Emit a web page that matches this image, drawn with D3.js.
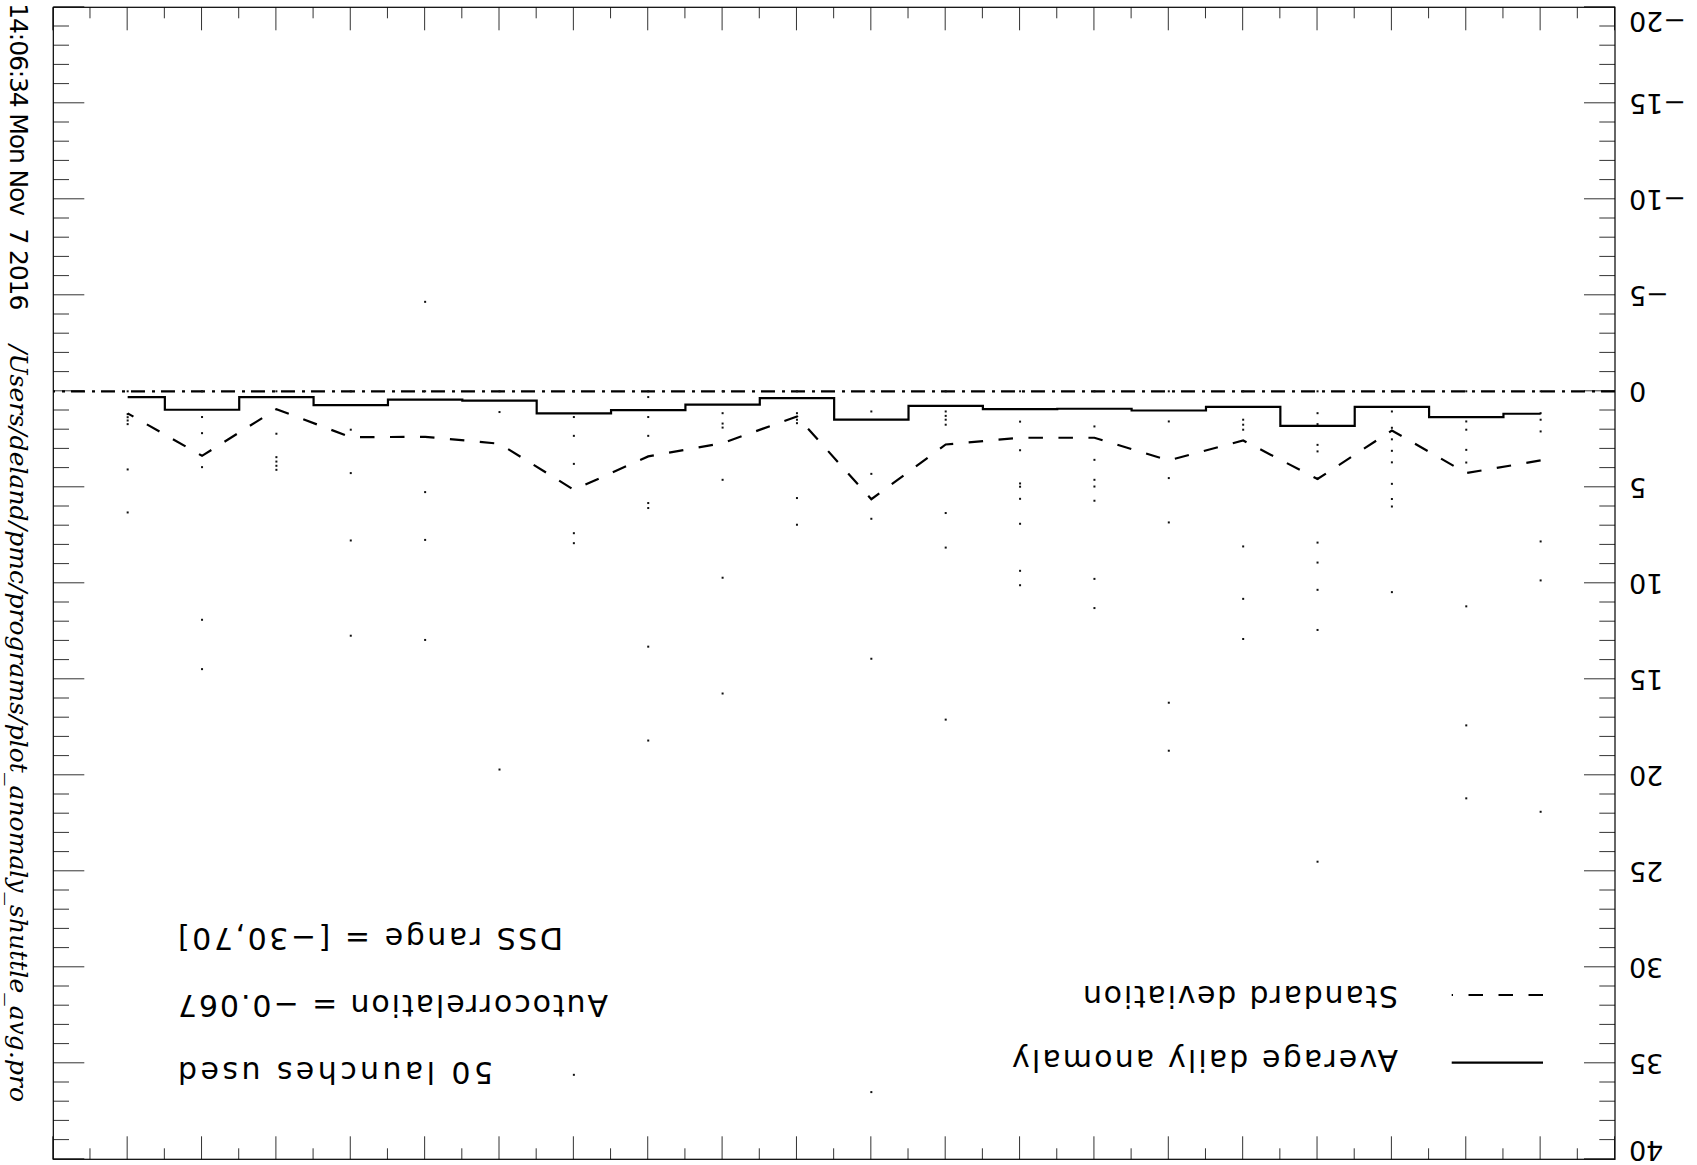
<!DOCTYPE html>
<html>
<head>
<meta charset="utf-8">
<script src="https://cdn.jsdelivr.net/npm/d3@7"></script>
<style>
  html, body { margin: 0; padding: 0; background: #fff; }
  svg { display: block; }
</style>
</head>
<body>
<svg id="chart" width="1697" height="1165"></svg>
<script>
// ---- data (original orientation, day index 1..20) ----
const days = d3.range(1, 21);
const avgAnomaly = [1.17, 1.35, 0.81, 1.80, 0.81, 1.00, 0.91, 0.93, 0.76, 1.48,
                    0.36, 0.69, 0.98, 1.15, 0.49, 0.43, 0.72, 0.30, 0.96, 0.30];
const stdDev = [3.60, 4.26, 2.04, 4.57, 2.56, 3.60, 2.42, 2.42, 2.77, 5.62,
                1.31, 2.70, 3.39, 5.13, 2.73, 2.37, 2.39, 0.93, 3.36, 1.15];
const launchValues = [
  [0, 1.14, 1.48, 2.09, 7.82, 9.85, 21.9],
  [0, 1.57, 2.0, 3.05, 3.71, 11.2, 17.4, 21.2],
  [0, 1.05, 1.9, 2.5, 3.1, 3.7, 4.82, 5.61, 6.0, 10.46],
  [0, 1.14, 1.71, 2.79, 3.13, 4.55, 7.88, 8.92, 10.34, 12.43, 24.5],
  [0, 1.48, 1.74, 2.0, 8.08, 10.81, 12.9],
  [0, 1.57, 4.52, 6.83, 16.22, 18.72],
  [0, 1.83, 3.57, 4.61, 4.96, 5.7, 9.77, 11.29],
  [0, 1.58, 3.07, 4.8, 4.97, 5.6, 6.9, 9.35, 10.1],
  [0, 1.05, 1.28, 1.48, 1.74, 6.34, 8.14, 17.1],
  [0, 1.05, 4.3, 6.64, 13.93, 36.5],
  [0, 1.14, 1.48, 1.66, 5.56, 6.95],
  [0, 1.14, 1.68, 1.89, 4.61, 9.71, 15.74],
  [0, 0.3, 1.34, 2.32, 5.82, 6.08, 13.3, 18.19],
  [0, 1.34, 2.32, 3.78, 7.39, 7.91, 35.6],
  [0, 1.08, 19.7],
  [0, -4.66, 5.25, 7.74, 12.95],
  [0, 2.0, 4.26, 7.77, 12.73],
  [0, 2.21, 3.43, 3.66, 3.88, 4.09],
  [0, 1.34, 2.18, 3.95, 11.9, 14.47],
  [0, 1.19, 1.35, 1.52, 1.71, 4.07, 6.31]
];
const yMajorTicks = d3.range(-20, 41, 5);
const yMinorTicks = d3.range(-20, 41, 1).filter(v => v % 5 !== 0);
const xMajorTicks = d3.range(0, 22, 1);
const xMinorTicks = d3.range(0.5, 21, 1);
const legendLabels = ["Average daily anomaly", "Standard deviation"];
const infoLines = ["50 launches used", "Autocorrelation = \u22120.067", "DSS range = [\u221230,70]"];
const timestamp = "14:06:34 Mon Nov  7 2016";
const progPath = "/Users/deland/pmc/programs/plot_anomaly_shuttle_avg.pro";

// ---- layout ----
const W = 1697, H = 1165;
const L = 82, R = 1643.7, T = 5.7, B = 1157.7;
const svg = d3.select("#chart");
svg.append("rect").attr("width", W).attr("height", H).attr("fill", "#fff");
// whole IDL plot is rendered upside down
const g = svg.append("g").attr("transform", `rotate(180, ${W/2}, ${H/2})`);

const x = d3.scaleLinear().domain([0, 21]).range([L, R]);
const y = d3.scaleLinear().domain([-20, 40]).range([B, T]);

const tickCol = "#333";
function styleAxis(sel) {
  sel.select(".domain").remove();
  sel.selectAll(".tick line").attr("stroke", tickCol).attr("stroke-width", 1);
}

// y axes
g.append("g").attr("transform", `translate(${L},0)`)
  .call(d3.axisLeft(y).tickValues(yMajorTicks).tickSizeInner(-31).tickSizeOuter(0).tickPadding(14))
  .call(styleAxis)
  .call(s => s.selectAll("text")
    .attr("font-family", "DejaVu Sans").attr("font-size", 27).attr("fill", "#000")
    .attr("transform", d => d === -20 ? "translate(0,-13.5)" : (d === 40 ? "translate(0,9.5)" : null)));
g.append("g").attr("transform", `translate(${L},0)`)
  .call(d3.axisLeft(y).tickValues(yMinorTicks).tickSizeInner(-15.7).tickSizeOuter(0).tickFormat(""))
  .call(styleAxis);
g.append("g").attr("transform", `translate(${R},0)`)
  .call(d3.axisRight(y).tickValues(yMajorTicks).tickSizeInner(-31).tickSizeOuter(0).tickFormat(""))
  .call(styleAxis);
g.append("g").attr("transform", `translate(${R},0)`)
  .call(d3.axisRight(y).tickValues(yMinorTicks).tickSizeInner(-15.7).tickSizeOuter(0).tickFormat(""))
  .call(styleAxis);
// x axes
g.append("g").attr("transform", `translate(0,${B})`)
  .call(d3.axisBottom(x).tickValues(xMajorTicks).tickSizeInner(-23).tickSizeOuter(0).tickFormat(""))
  .call(styleAxis);
g.append("g").attr("transform", `translate(0,${B})`)
  .call(d3.axisBottom(x).tickValues(xMinorTicks).tickSizeInner(-11).tickSizeOuter(0).tickFormat(""))
  .call(styleAxis);
g.append("g").attr("transform", `translate(0,${T})`)
  .call(d3.axisTop(x).tickValues(xMajorTicks).tickSizeInner(-23).tickSizeOuter(0).tickFormat(""))
  .call(styleAxis);
g.append("g").attr("transform", `translate(0,${T})`)
  .call(d3.axisTop(x).tickValues(xMinorTicks).tickSizeInner(-11).tickSizeOuter(0).tickFormat(""))
  .call(styleAxis);

// box
g.append("rect").attr("x", L).attr("y", T).attr("width", R - L).attr("height", B - T)
  .attr("fill", "none").attr("stroke", "#000").attr("stroke-width", 1.2);

// zero line (dash-dot)
g.append("line").attr("x1", x(0)).attr("x2", x(21)).attr("y1", y(0)).attr("y2", y(0))
  .attr("stroke", "#000").attr("stroke-width", 2.2).attr("stroke-dasharray", "14,6,3,7");

// individual launch values (points)
const pts = [];
launchValues.forEach((vals, i) => vals.forEach(v => pts.push({d: days[i], v})));
g.append("g").selectAll("rect").data(pts).join("rect")
  .attr("x", d => x(d.d) - 1).attr("y", d => y(d.v) - 1)
  .attr("width", 2).attr("height", 2).attr("fill", "#111");

// standard deviation (dashed)
const sdData = days.map((d, i) => ({d, v: stdDev[i]}));
g.append("path").datum(sdData)
  .attr("d", d3.line().x(p => x(p.d)).y(p => y(p.v)))
  .attr("fill", "none").attr("stroke", "#000").attr("stroke-width", 2.2)
  .attr("stroke-dasharray", "14.5,15.5");

// average anomaly (histogram step)
const avgData = days.map((d, i) => ({d, v: avgAnomaly[i]}));
g.append("path").datum(avgData)
  .attr("d", d3.line().x(p => x(p.d)).y(p => y(p.v)).curve(d3.curveStep))
  .attr("fill", "none").attr("stroke", "#000").attr("stroke-width", 2.2);

// legend
const txtFont = "DejaVu Sans";
g.append("line").attr("x1", 154).attr("x2", 245.3).attr("y1", 102.3).attr("y2", 102.3)
  .attr("stroke", "#000").attr("stroke-width", 2.2);
g.append("line").attr("x1", 154).attr("x2", 245.3).attr("y1", 170).attr("y2", 170)
  .attr("stroke", "#000").attr("stroke-width", 2.2).attr("stroke-dasharray", "14.5,15.5");
const legendPos = [{x: 299, y: 115, len: 386}, {x: 299, y: 179, len: 315}];
g.append("g").selectAll("text").data(legendLabels).join("text")
  .attr("x", (d, i) => legendPos[i].x).attr("y", (d, i) => legendPos[i].y)
  .attr("textLength", (d, i) => legendPos[i].len).attr("lengthAdjust", "spacing")
  .attr("font-family", txtFont).attr("font-size", 30).attr("fill", "#000")
  .text(d => d);

// info text
const infoPos = [{x: 1204, y: 103.3, len: 315}, {x: 1089, y: 170, len: 430}, {x: 1134, y: 237, len: 385}];
g.append("g").selectAll("text").data(infoLines).join("text")
  .attr("x", (d, i) => infoPos[i].x).attr("y", (d, i) => infoPos[i].y)
  .attr("textLength", (d, i) => infoPos[i].len).attr("lengthAdjust", "spacing")
  .attr("font-family", txtFont).attr("font-size", 30).attr("fill", "#000")
  .text(d => d);

// timestamp and program path (vertical, right side of original)
g.append("text").attr("transform", "translate(1687,1161.7) rotate(-90)")
  .attr("font-family", "DejaVu Sans").attr("font-size", 25).attr("fill", "#000")
  .attr("textLength", 307).attr("lengthAdjust", "spacing")
  .style("white-space", "pre").text(timestamp);
g.append("text").attr("transform", "translate(1687,820) rotate(-90)")
  .attr("font-family", "DejaVu Serif").attr("font-style", "italic").attr("font-size", 25).attr("fill", "#000")
  .attr("textLength", 757).attr("lengthAdjust", "spacing")
  .text(progPath);
</script>
</body>
</html>
